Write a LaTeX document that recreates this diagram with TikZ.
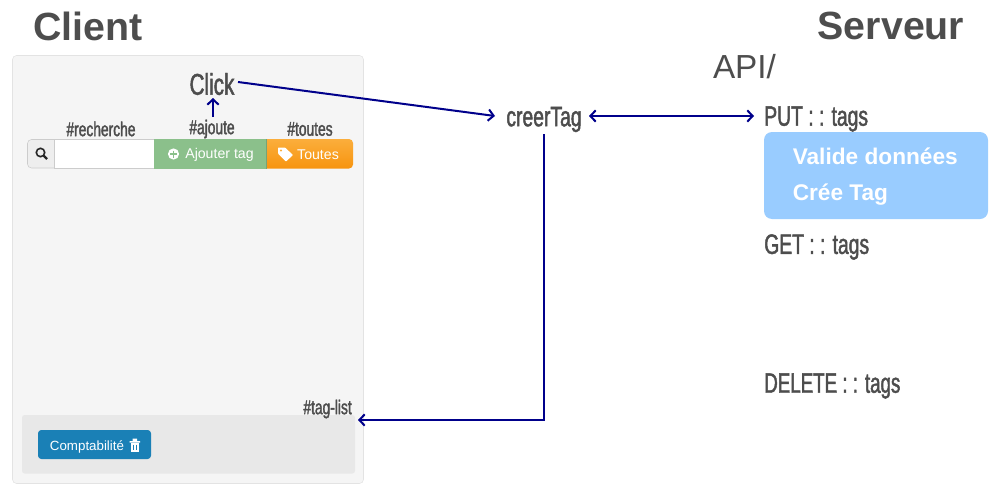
\documentclass[tikz,border=0pt]{standalone}
\usepackage{fontspec}
\setmainfont{Liberation Sans}
\newfontfamily\narrowfont[FakeStretch=0.69,FakeBold=1.6]{Liberation Sans}
\usetikzlibrary{arrows.meta}

\definecolor{textgrey}{HTML}{4D4D4D}
\definecolor{navyline}{HTML}{00008B}
\definecolor{panelfill}{HTML}{F5F5F5}
\definecolor{panelline}{HTML}{E3E3E3}
\definecolor{listfill}{HTML}{E8E8E8}
\definecolor{addongrey}{HTML}{EEEEEE}
\definecolor{greenbtn}{HTML}{8BC08B}
\definecolor{orangetop}{HTML}{FBAE3C}
\definecolor{orangebot}{HTML}{F7940F}
\definecolor{bluebtn}{HTML}{1A80B6}
\definecolor{bluebox}{HTML}{99CCFF}

\tikzset{
    title/.style={font=\fontsize{29.5}{30}\selectfont\bfseries, text=textgrey, inner sep=0pt},
    biglabel/.style={font=\narrowfont\fontsize{21}{22}\selectfont, text=textgrey, inner sep=0pt},
    idlabel/.style={font=\narrowfont\fontsize{15}{16}\selectfont, text=textgrey, inner sep=0pt},
    btntext/.style={font=\fontsize{10.6}{12}\selectfont, text=white, inner sep=0pt},
    boxtext/.style={font=\fontsize{17}{18}\selectfont\bfseries, text=white, inner sep=0pt, anchor=west},
    flow/.style={draw=navyline, line width=1.5pt, >={Straight Barb[length=4pt,width=8.5pt,line width=1.5pt]}},
}

\begin{document}
\begin{tikzpicture}[x=0.75pt,y=-0.75pt]
    \useasboundingbox (0,0) rectangle (1000,500);

    % panels
    \draw[panelline, fill=panelfill, rounded corners=3pt] (12.5,55.5) rectangle (363.5,483.5);
    \fill[listfill, rounded corners=2pt] (22,415) rectangle (355,473.5);

    % search bar
    \draw[black!20, fill=addongrey, rounded corners=3pt] (27.5,139.5) rectangle (60,168);
    \fill[white] (54,139.5) rectangle (154,168);
    \draw[black!20] (54,139.5) -- (154,139.5) (54,168) -- (154,168) (54,139.5) -- (54,168);
    \fill[greenbtn] (154,139) rectangle (266,168.5);
    \draw[greenbtn!85!black] (266,139) -- (266,168.5);
    \shade[top color=orangetop, bottom color=orangebot, rounded corners=3pt]
        (267,139) -- (353,139) -- (353,168.5) [sharp corners] -- (267,168.5) -- cycle;

    % buttons and box
    \node[fill=bluebtn, rounded corners=2.5pt, minimum width=84.75pt, minimum height=21.75pt, inner sep=0pt] (compta) at (94.5,444.5) {};
    \node[fill=bluebox, rounded corners=6pt, minimum width=168pt, minimum height=65.25pt, inner sep=0pt] (valide) at (876,175.5) {};

    % icons
    \draw[black!85, line width=1.2pt] (40.5,152.5) circle (4.2);
    \draw[black!85, line width=1.8pt] (43.5,155.5) -- (47,159);
    \fill[white] (173.5,154) circle (5.6);
    \draw[greenbtn, line width=1.3pt] (170,154) -- (177,154) (173.5,150.5) -- (173.5,157.5);
    \fill[white, rounded corners=0.5pt] (278,147.5) -- (285,147.5) -- (293,155) -- (286,161.5) -- (278,153.5) -- cycle;
    \fill[orangetop] (281,150.5) circle (1.2);
    \fill[white] (129.5,441) rectangle (140,442.5) (132.5,438.5) rectangle (137,441);
    \fill[white] (131,443) rectangle (138.5,451.5);
    \draw[bluebtn, line width=0.4pt] (133.4,444.5) -- (133.4,450) (136.1,444.5) -- (136.1,450);

    % texts
    \node[title] (client) at (88,26) {Client};
    \node[title] (serveur) at (891,26) {Serveur};
    \node[font=\fontsize{25}{26}\selectfont, text=textgrey, inner sep=0pt] (api) at (744.5,67) {API/};

    \node[font=\narrowfont\fontsize{22.5}{24}\selectfont, text=textgrey, inner sep=0pt] (click) at (212,84) {Click};
    \node[biglabel] (creer) at (544,119.5) {creerTag};
    \node[biglabel, anchor=west] (put) at (764,119) {PUT : : tags};
    \node[biglabel, anchor=west] (get) at (764,247) {GET : : tags};
    \node[biglabel, anchor=west, xscale=0.97] (delete) at (764,386) {DELETE : : tags};

    \node[idlabel] (recherche) at (101,129) {\#recherche};
    \node[idlabel] (ajoute) at (212,129) {\#ajoute};
    \node[idlabel] (toutes) at (310,129) {\#toutes};
    \node[idlabel, anchor=east] (taglist) at (352,409) {\#tag-list};

    \node[btntext] (ajoutertag) at (219.5,155) {Ajouter tag};
    \node[btntext] (toutesbtn) at (318,155) {Toutes};
    \node[btntext, font=\fontsize{10}{12}\selectfont] (comptatxt) at (87,447) {Comptabilité};
    \node[boxtext] (validetxt) at (792.5,156.5) {Valide données};
    \node[boxtext] (creetxt) at (792.5,194.5) {Crée Tag};

    \coordinate (tagin) at (358,420);
    \coordinate (clickout) at (238,82);
    \coordinate (creerin) at (495,116);
    \coordinate (creerright) at (589,116);
    \coordinate (putin) at (754,116);
    \coordinate (creerdown) at (544,134);
    \coordinate (ajouteup) at (213,117);
    \coordinate (clickdown) at (213,98);

    % arrows
    \path (ajouteup) edge [flow,->] (clickdown);
    \path (clickout) edge [flow,->] (creerin);
    \path (creerright) edge [flow,<->] (putin);
    \draw [flow,->] (creerdown) |- (tagin);

\end{tikzpicture}
\end{document}
